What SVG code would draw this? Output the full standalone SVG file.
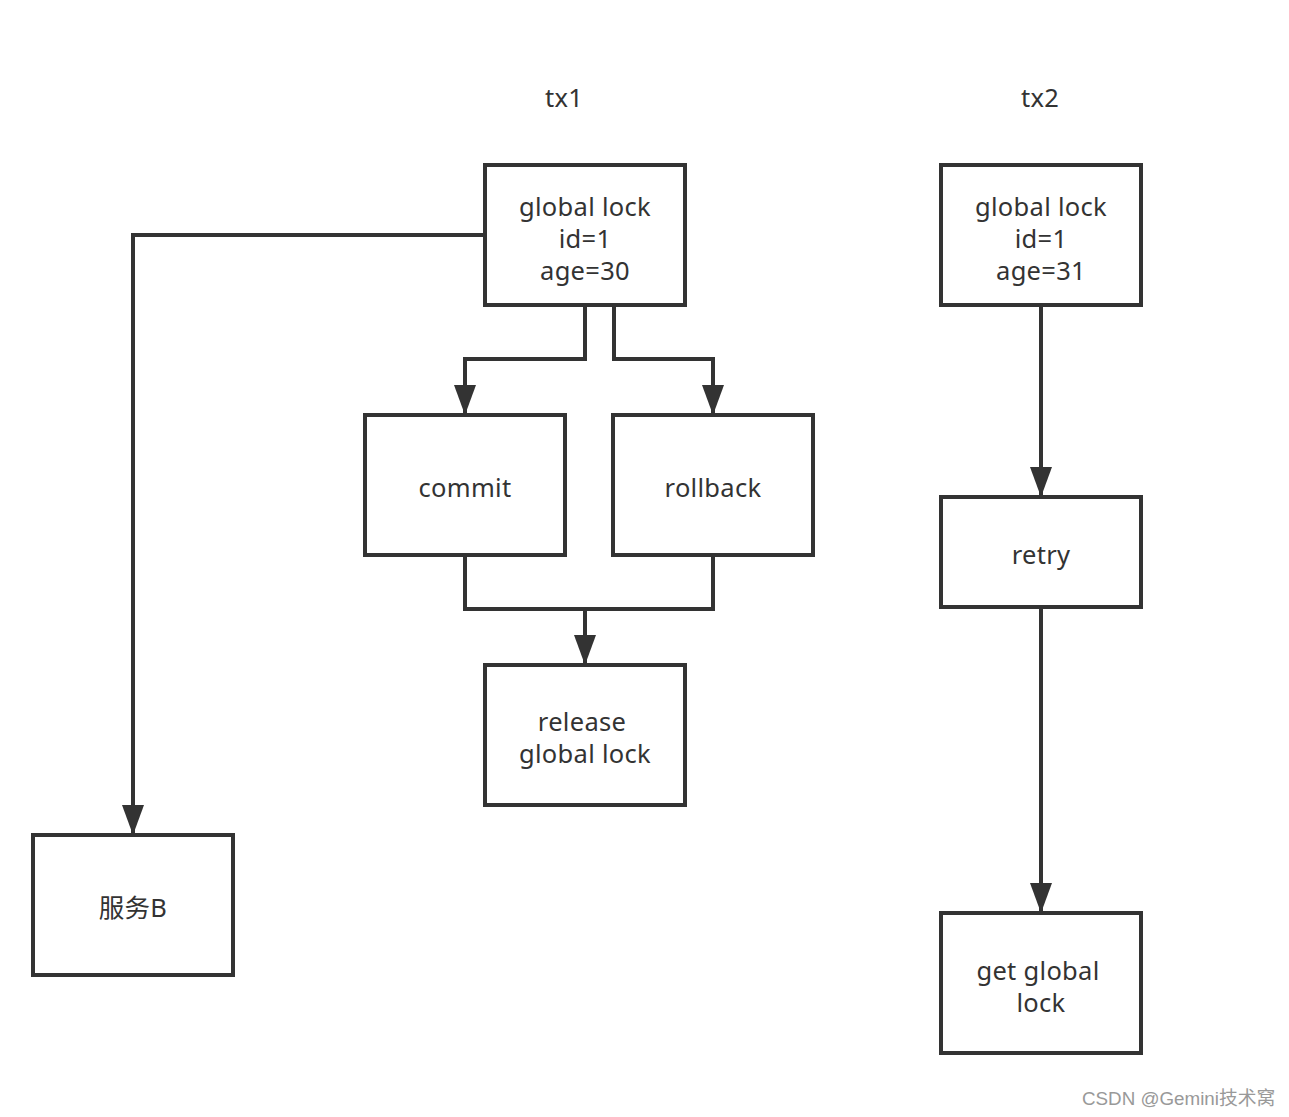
<svg xmlns="http://www.w3.org/2000/svg" width="1289" height="1117" viewBox="0 0 1289 1117">
<style>
.box{fill:#fff;stroke:#333;stroke-width:4}
.ln{fill:none;stroke:#333;stroke-width:4}
.t{font-family:"Noto Sans","Open Sans","Noto Sans CJK SC",sans-serif;font-size:25.5px;fill:#333;text-anchor:middle;letter-spacing:0.3px}
.wm{font-family:"Liberation Sans","Noto Sans CJK SC",sans-serif;font-size:18.8px;fill:#999}
</style>
<defs>
<marker id="ah" markerUnits="userSpaceOnUse" markerWidth="30" markerHeight="22" refX="30" refY="11" orient="auto" viewBox="0 0 30 22">
<path d="M0,0 L30,11 L0,22 Z" fill="#333"/>
</marker>
</defs>
<rect width="1289" height="1117" fill="#fff"/>
<g id="connectors">
<path class="ln" d="M485,235 H133 V835" marker-end="url(#ah)"/>
<path class="ln" d="M585,305 V359 H465 V415" marker-end="url(#ah)"/>
<path class="ln" d="M614,305 V359 H713 V415" marker-end="url(#ah)"/>
<path class="ln" d="M465,555 V609 H713 V555"/>
<path class="ln" d="M585,609 V665" marker-end="url(#ah)"/>
<path class="ln" d="M1041,305 V497" marker-end="url(#ah)"/>
<path class="ln" d="M1041,607 V913" marker-end="url(#ah)"/>
</g>
<g id="label-tx1"><text class="t" x="564" y="107">tx1</text></g>
<g id="label-tx2"><text class="t" x="1040" y="107">tx2</text></g>
<g id="gl1"><rect class="box" x="485" y="165" width="200" height="140"/>
<text class="t" x="585" y="216">global lock</text><text class="t" x="585" y="248">id=1</text><text class="t" x="585" y="280">age=30</text></g>
<g id="commit"><rect class="box" x="365" y="415" width="200" height="140"/><text class="t" x="465" y="497">commit</text></g>
<g id="rollback"><rect class="box" x="613" y="415" width="200" height="140"/><text class="t" x="713" y="497">rollback</text></g>
<g id="release"><rect class="box" x="485" y="665" width="200" height="140"/>
<text class="t" x="582" y="731">release</text><text class="t" x="585" y="763">global lock</text></g>
<g id="serviceB"><rect class="box" x="33" y="835" width="200" height="140"/><text class="t" x="133" y="917">服务B</text></g>
<g id="gl2"><rect class="box" x="941" y="165" width="200" height="140"/>
<text class="t" x="1041" y="216">global lock</text><text class="t" x="1041" y="248">id=1</text><text class="t" x="1041" y="280">age=31</text></g>
<g id="retry"><rect class="box" x="941" y="497" width="200" height="110"/><text class="t" x="1041" y="564">retry</text></g>
<g id="get"><rect class="box" x="941" y="913" width="200" height="140"/>
<text class="t" x="1038" y="980">get global</text><text class="t" x="1041" y="1012">lock</text></g>
<text class="wm" x="1082" y="1105">CSDN @Gemini技术窝</text>
</svg>
